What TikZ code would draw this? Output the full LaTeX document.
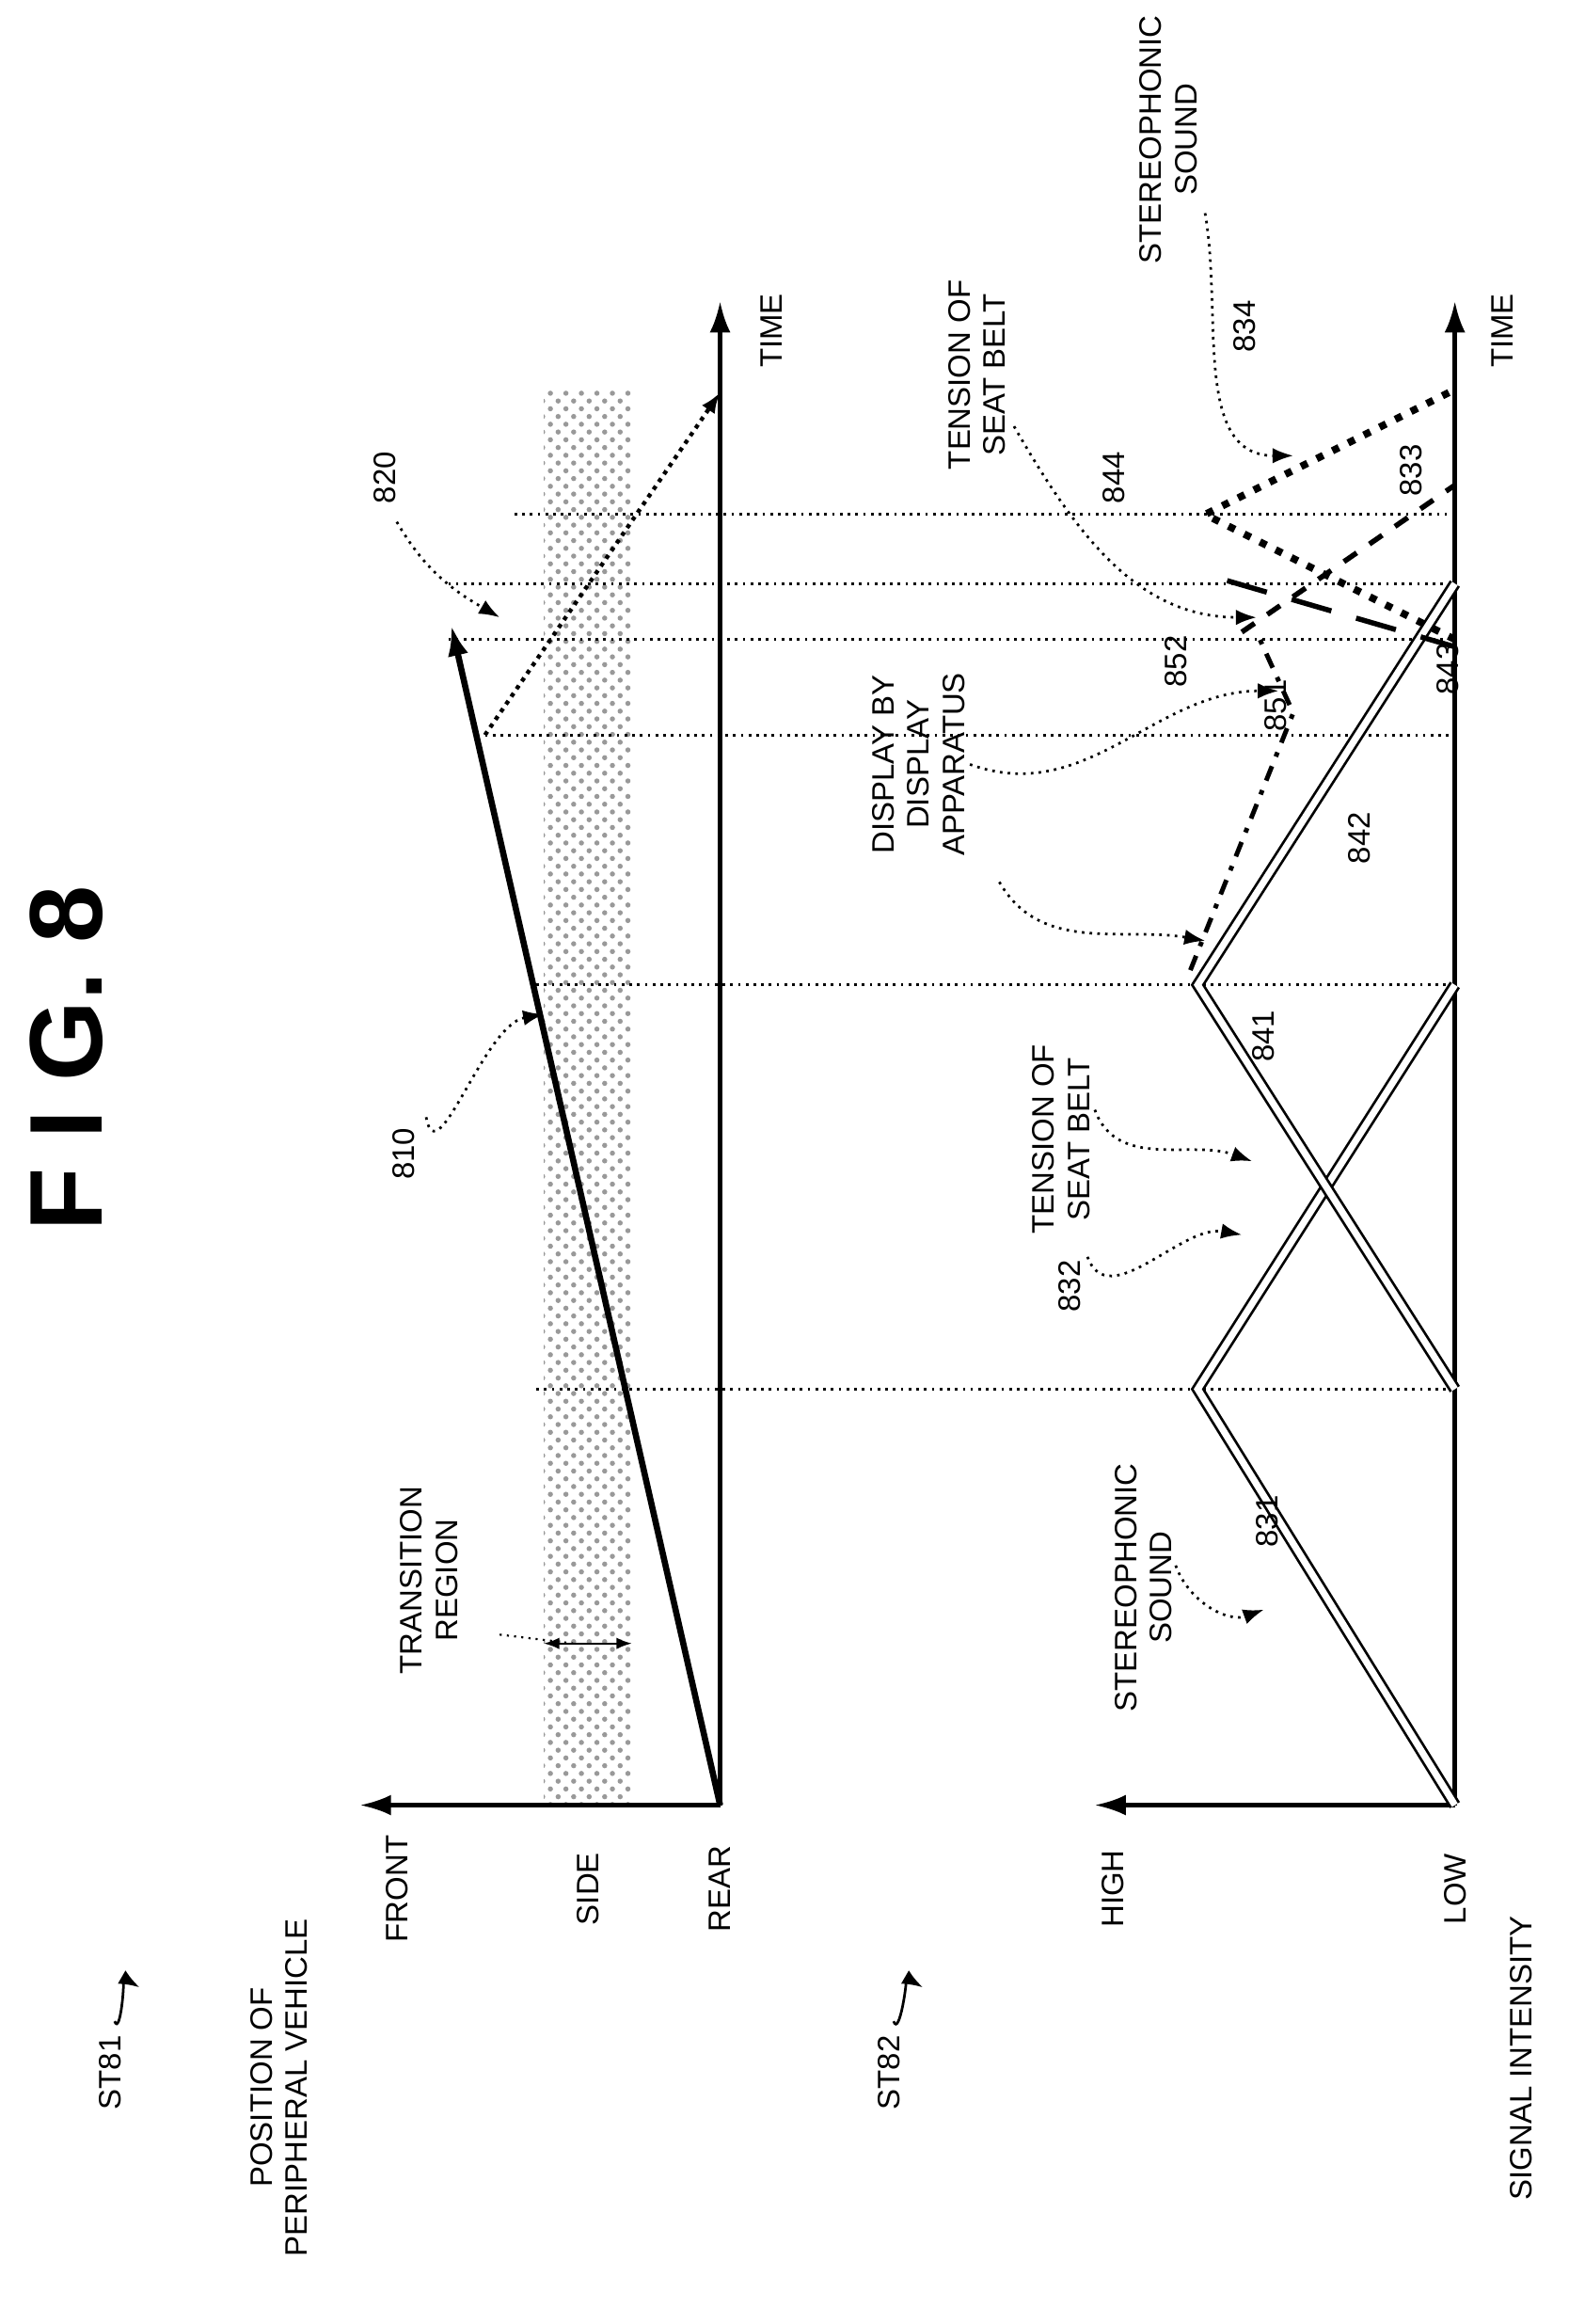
\documentclass[tikz,border=0pt]{standalone}
\usepackage{fontspec}
\setmainfont{Liberation Sans}
\usetikzlibrary{arrows.meta,patterns}

\begin{document}
\begin{tikzpicture}[x=0.01cm,y=-0.01cm,font=\fontsize{6}{6.8}\selectfont]
\tikzstyle{lbl}=[rotate=90,align=center,inner sep=1pt]
\tikzstyle{axis}=[line width=0.8pt,-{Latex[length=6pt,width=4pt]}]
\tikzstyle{grid}=[densely dotted,line width=0.5pt]
\tikzstyle{curve}=[double,line width=0.5pt,double distance=1.3pt]
\tikzstyle{lead}=[densely dotted,line width=0.5pt,-{Latex[length=4pt,width=3pt]}]
\useasboundingbox (0,0) rectangle (1078,1581);

% title
\node[lbl,font=\bfseries\fontsize{20}{22}\selectfont] (fig) at (45,720) {F I G. 8};

% upper chart
\fill[pattern=crosshatch dots,pattern color=gray!80] (370,265) rectangle (430,1228);
\coordinate (O1) at (490,1228);
\draw[axis] (O1) -- (490,205) coordinate (T1);
\draw[axis] (O1) -- (245,1228) coordinate (P1);
\node[lbl] (time1) at (525,225) {TIME};
\node[lbl] (front) at (270,1285) {FRONT};
\node[lbl] (side) at (400,1285) {SIDE};
\node[lbl] (rear) at (490,1285) {REAR};
\node[lbl] (posv) at (190,1420) {POSITION OF\\PERIPHERAL VEHICLE};
\node[lbl] (st81) at (75,1410) {ST81};
\draw[lead,solid] (78,1375) to[out=-70,in=150] (95,1352);
\node[lbl] (trans) at (292,1075) {TRANSITION\\REGION};
\draw[{Latex[length=3pt]}-{Latex[length=3pt]}] (370,1118) -- (430,1118);
\draw[densely dotted] (340,1112) -- (390,1118);

% trajectories
\draw[axis,line width=1.2pt] (O1) -- (307,425) coordinate (e810);
\draw[lead,line width=0.8pt] (330,500) -- (490,267);
\node[lbl] (n810) at (275,785) {810};
\draw[lead] (290,760) to[out=-80,in=190] (370,690);
\node[lbl] (n820) at (262,325) {820};
\draw[lead] (270,355) to[out=-60,in=150] (340,420);

% time markers
\foreach \t/\s in {945/365,670/365,500/330,435/305,397/305,350/350}
  \draw[grid] (\s,\t) -- (990,\t);

% lower chart
\coordinate (O2) at (990,1228);
\draw[axis] (O2) -- (990,205) coordinate (T2);
\draw[axis] (O2) -- (745,1228) coordinate (P2);
\node[lbl] (time2) at (1022,225) {TIME};
\node[lbl] (high) at (757,1285) {HIGH};
\node[lbl] (low) at (990,1285) {LOW};
\node[lbl] (sint) at (1035,1400) {SIGNAL INTENSITY};
\node[lbl] (st82) at (605,1410) {ST82};
\draw[lead,solid] (608,1375) to[out=-70,in=150] (628,1352);

% signals
\draw[curve] (O2) -- (815,945) -- (990,670);
\draw[curve] (990,945) -- (815,670) -- (990,397);
\draw[line width=0.9pt,dash dot] (810,660) -- (880,485) -- (855,430);
\draw[line width=1pt,dashed] (845,430) -- (990,330);
\draw[line width=1pt,dash pattern=on 8pt off 5pt] (835,395) -- (990,440);
\draw[line width=1.4pt,dotted] (990,435) -- (820,350) -- (990,265);

\node[lbl] (stereo1) at (778,1080) {STEREOPHONIC\\SOUND};
\draw[lead] (800,1065) to[out=-70,in=200] (860,1095);
\node[lbl] (n831) at (862,1035) {831};
\node[lbl] (n832) at (728,875) {832};
\draw[lead] (740,855) to[out=-70,in=170] (845,840);
\node[lbl] (tens1) at (722,775) {TENSION OF\\SEAT BELT};
\draw[lead] (745,755) to[out=-70,in=160] (852,790);
\node[lbl] (n841) at (860,705) {841};
\node[lbl] (disp) at (625,520) {DISPLAY BY\\DISPLAY\\APPARATUS};
\draw[lead] (680,600) to[out=-60,in=170] (820,640);
\draw[lead] (660,520) to[out=-20,in=180] (870,470);
\node[lbl] (n842) at (925,570) {842};
\node[lbl] (n851) at (868,480) {851};
\node[lbl] (n852) at (800,450) {852};
\node[lbl] (n843) at (985,455) {843};
\node[lbl] (n833) at (960,320) {833};
\node[lbl] (n844) at (758,325) {844};
\node[lbl] (n834) at (847,222) {834};
\node[lbl] (tens2) at (665,255) {TENSION OF\\SEAT BELT};
\node[lbl] (stereo2) at (795,95) {STEREOPHONIC\\SOUND};
\draw[lead] (690,290) to[out=-60,in=180] (855,420);
\draw[lead] (820,145) to[out=-80,in=180] (880,310);
\end{tikzpicture}
\end{document}
